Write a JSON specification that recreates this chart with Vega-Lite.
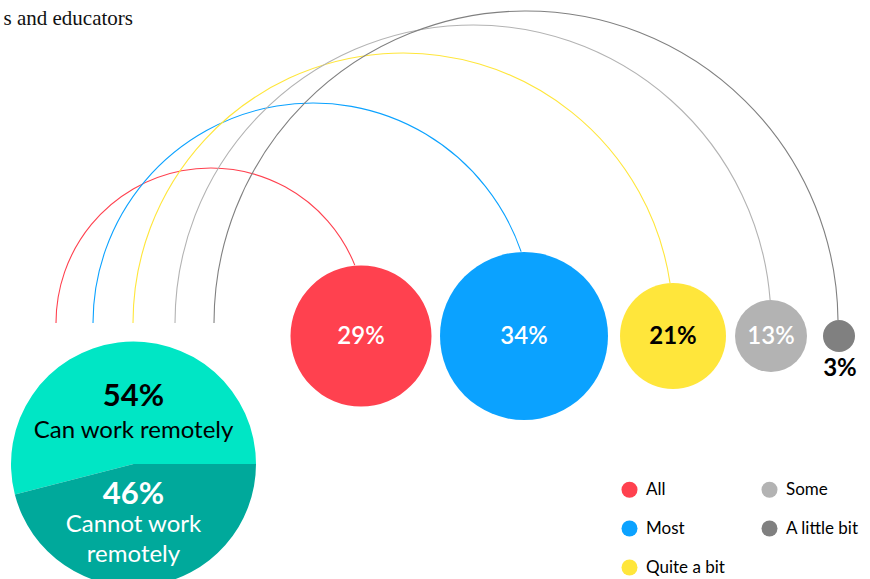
{
  "$schema": "https://vega.github.io/schema/vega-lite/v6.json",
  "width": 870,
  "height": 579,
  "autosize": {"type": "none"},
  "padding": 0,
  "background": "white",
  "config": {"view": {"stroke": null}, "font": "Lato"},
  "datasets": {
    "levels": [
      {"level": "All", "share": 0.29},
      {"level": "Most", "share": 0.34},
      {"level": "Quite a bit", "share": 0.21},
      {"level": "Some", "share": 0.13},
      {"level": "A little bit", "share": 0.03}
    ],
    "remote": [
      {"part": "Can work remotely", "share": 0.54, "lines": ["Can work remotely"]},
      {"part": "Cannot work remotely", "share": 0.46, "lines": ["Cannot work", "remotely"]}
    ],
    "heading": [{"text": "s and educators"}]
  },
  "layer": [
    {
      "data": {"name": "heading"},
      "mark": {"type": "text", "font": "Liberation Serif", "fontSize": 21, "align": "right", "baseline": "alphabetic", "color": "#111"},
      "encoding": {"x": {"value": 133}, "y": {"value": 25}, "text": {"field": "text", "type": "nominal"}}
    },
    {
      "data": {"name": "levels"},
      "mark": {"type": "arc", "filled": false, "strokeWidth": 1.1},
      "encoding": {
        "x": {"field": "share", "type": "quantitative", "axis": null, "stack": null,
              "scale": {"domain": [0.03, 0.13, 0.21, 0.29, 0.34], "range": [526, 473, 403, 211, 313], "zero": false, "nice": false}},
        "y": {"value": 323},
        "theta": {"field": "share", "type": "quantitative", "stack": null,
                  "scale": {"domain": [0.03, 0.13, 0.21, 0.29, 0.34], "range": [1.5612, 1.494, 1.4231, 1.1879, 1.2406], "zero": false, "nice": false}},
        "theta2": {"value": -1.5708},
        "radius": {"field": "share", "type": "quantitative", "stack": null,
                   "scale": {"type": "linear", "domain": [0.03, 0.13, 0.21, 0.29, 0.34], "range": [312, 298, 270, 155, 220], "zero": false, "nice": false}},
        "radius2": {"field": "share"},
        "stroke": {"field": "level", "type": "nominal", "legend": null,
                   "scale": {"domain": ["All", "Most", "Quite a bit", "Some", "A little bit"], "range": ["#ff414f", "#0ba2ff", "#ffe63b", "#b3b3b3", "#808080"]}}
      }
    },
    {
      "data": {"name": "remote"},
      "mark": {"type": "arc", "radius": 122.5},
      "encoding": {
        "x": {"value": 133.5},
        "y": {"value": 464},
        "theta": {"field": "share", "type": "quantitative", "stack": true,
                  "scale": {"domain": [0, 1], "range": [-1.8221, 4.4611]}},
        "order": {"field": "part", "type": "nominal", "sort": "ascending"},
        "fill": {"field": "part", "type": "nominal", "legend": null,
                 "scale": {"domain": ["Can work remotely", "Cannot work remotely"], "range": ["#00e6c5", "#00a99b"]}}
      }
    },
    {
      "data": {"name": "remote"},
      "mark": {"type": "text", "fontSize": 31, "fontWeight": "bold", "align": "center", "baseline": "middle"},
      "encoding": {
        "x": {"value": 133.5},
        "y": {"field": "share", "type": "quantitative", "axis": null,
              "scale": {"domain": [0.46, 0.54], "range": [495, 397], "zero": false, "nice": false}},
        "text": {"field": "share", "type": "quantitative", "format": ".0%"},
        "color": {"condition": {"test": "datum.part === 'Cannot work remotely'", "value": "white"}, "value": "black"}
      }
    },
    {
      "data": {"name": "remote"},
      "mark": {"type": "text", "fontSize": 24, "align": "center", "baseline": "middle", "lineHeight": 30},
      "encoding": {
        "x": {"value": 133.5},
        "y": {"field": "share", "type": "quantitative", "axis": null,
              "scale": {"domain": [0.46, 0.54], "range": [525, 431], "zero": false, "nice": false}},
        "text": {"field": "lines", "type": "nominal"},
        "color": {"condition": {"test": "datum.part === 'Cannot work remotely'", "value": "white"}, "value": "black"}
      }
    },
    {
      "data": {"name": "levels"},
      "mark": {"type": "point", "filled": true, "opacity": 1, "shape": "circle", "strokeWidth": 0},
      "encoding": {
        "x": {"field": "share", "type": "quantitative", "axis": null,
              "scale": {"domain": [0.03, 0.13, 0.21, 0.29, 0.34], "range": [839, 771, 673, 361, 524], "zero": false, "nice": false}},
        "y": {"value": 336},
        "size": {"field": "share", "type": "quantitative", "legend": null,
                 "scale": {"domain": [0.03, 0.13, 0.21, 0.29, 0.34], "range": [1024, 5184, 11236, 19881, 28224], "zero": false, "nice": false}},
        "color": {"field": "level", "type": "nominal",
                  "scale": {"domain": ["All", "Most", "Quite a bit", "Some", "A little bit"], "range": ["#ff414f", "#0ba2ff", "#ffe63b", "#b3b3b3", "#808080"]},
                  "legend": {"title": null, "orient": "none", "legendX": 621, "legendY": 481, "columns": 2, "symbolType": "circle", "symbolSize": 256,
                             "symbolStrokeWidth": 0, "symbolOpacity": 1, "labelFont": "Lato", "labelFontSize": 17, "labelColor": "black", "labelOffset": 8,
                             "rowPadding": 21, "columnPadding": 36, "padding": 0}}
      }
    },
    {
      "data": {"name": "levels"},
      "transform": [{"filter": "datum.level === 'All' || datum.level === 'Most' || datum.level === 'Some'"}],
      "mark": {"type": "text", "fontSize": 24, "fontWeight": 600, "align": "center", "baseline": "middle", "color": "white"},
      "encoding": {
        "x": {"field": "share", "type": "quantitative", "axis": null,
              "scale": {"domain": [0.03, 0.13, 0.21, 0.29, 0.34], "range": [839, 771, 673, 361, 524], "zero": false, "nice": false}},
        "y": {"value": 337},
        "text": {"field": "share", "type": "quantitative", "format": ".0%"}
      }
    },
    {
      "data": {"name": "levels"},
      "transform": [{"filter": "datum.level === 'Quite a bit' || datum.level === 'A little bit'"}],
      "mark": {"type": "text", "fontSize": 24, "fontWeight": "bold", "align": "center", "baseline": "middle", "color": "black"},
      "encoding": {
        "x": {"field": "share", "type": "quantitative", "axis": null,
              "scale": {"domain": [0.03, 0.21], "range": [840, 673], "zero": false, "nice": false}},
        "y": {"field": "share", "type": "quantitative", "axis": null,
              "scale": {"domain": [0.03, 0.21], "range": [369, 337], "zero": false, "nice": false}},
        "text": {"field": "share", "type": "quantitative", "format": ".0%"}
      }
    }
  ],
  "resolve": {"scale": {"x": "independent", "y": "independent", "theta": "independent", "radius": "independent", "color": "independent", "size": "independent", "fill": "independent", "stroke": "independent"}}
}
